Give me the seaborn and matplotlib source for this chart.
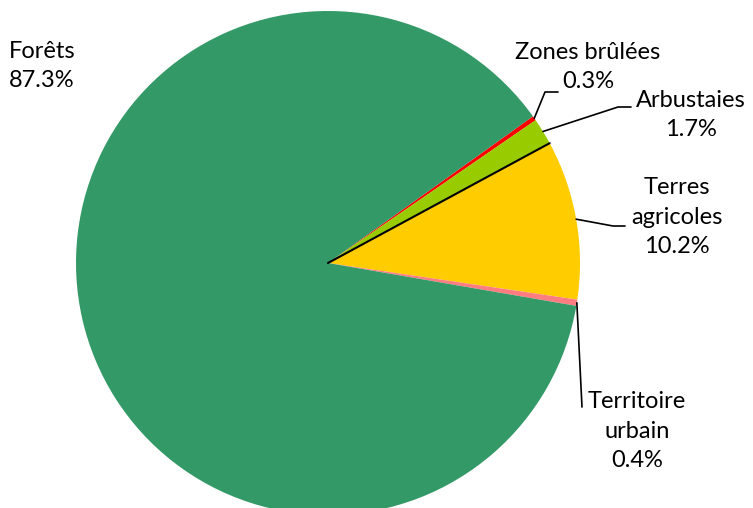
import numpy as np
import matplotlib
matplotlib.use("Agg")
import matplotlib.pyplot as plt
import seaborn as sns

# data
categories = ["Zones brûlées", "Arbustaies", "Terres\nagricoles", "Territoire\nurbain", "Forêts"]
shares = [0.3, 1.7, 10.2, 0.4, 87.3]
colors = ["#FF0000", "#99CC00", "#FFCC00", "#FF7C80", "#339966"]

sns.set_theme(style="white")
plt.rcParams["font.family"] = ["Lato", "DejaVu Sans"]

fig = plt.figure(figsize=(7.53, 5.08), dpi=100)
# pie centre ~ (328, 263) px, radius ~252 px
R = 252
cx, cy = 328, 263
W, H = 753, 508
ax = fig.add_axes([(cx - R) / W, (H - cy - R) / H, 2 * R / W, 2 * R / H])
wedges, _ = ax.pie(shares, colors=colors, startangle=35.6, counterclock=False,
                   radius=1, wedgeprops=dict(linewidth=0))
ax.set_xlim(-1, 1)
ax.set_ylim(-1, 1)
ax.set_aspect("equal")
ax.axis("off")

# black line on the Arbustaies / Terres agricoles border
b = np.deg2rad(wedges[1].theta1)
ax.plot([0, np.cos(b)], [0, np.sin(b)], color="black", lw=1.5, clip_on=False)

def px(x, y):
    return (x - cx) / R, (cy - y) / R

fs = 17
# label positions (px) and leader line bend points (px)
label_pos = {
    0: (588, 67, "center"),
    1: (691, 115, "center"),
    2: (677, 217, "center"),
    3: (637, 431, "center"),
    4: (9, 66, "left"),
}
leader_pts = {
    0: [(545, 92), (558, 92)],
    1: [(618, 107), (631, 107)],
    2: [(613, 226), (625, 226)],
    3: [(582, 407)],
}

for i, w in enumerate(wedges):
    x, y, ha = label_pos[i]
    tx, ty = px(x, y)
    ax.text(tx, ty, f"{categories[i]}\n{shares[i]:.1f}%", ha=ha, va="center",
            fontsize=fs, color="black", linespacing=1.5, clip_on=False)
    if i in leader_pts:
        mid = np.deg2rad((w.theta1 + w.theta2) / 2)
        xs = [np.cos(mid)] + [px(*p)[0] for p in leader_pts[i]]
        ys = [np.sin(mid)] + [px(*p)[1] for p in leader_pts[i]]
        ax.plot(xs, ys, color="black", lw=1.2, clip_on=False)

fig.savefig("out.png", dpi=100)
